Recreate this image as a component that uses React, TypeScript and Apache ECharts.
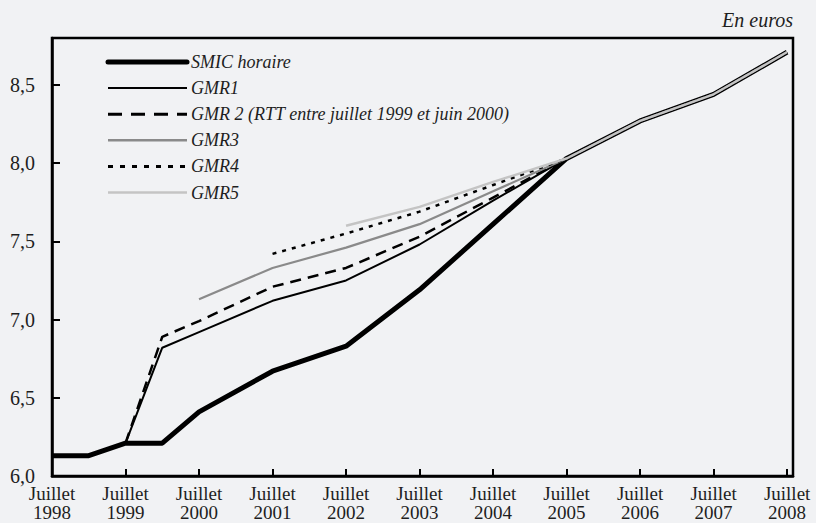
import React, { useEffect, useRef } from "react";
import * as echarts from "echarts";

// x positions: years since July 1998 (0 = Juillet 1998)
const periods = [0, 0.5, 1, 1.5, 2, 3, 4, 5, 6, 7, 8, 9, 10];
const tickYears = [1998, 1999, 2000, 2001, 2002, 2003, 2004, 2005, 2006, 2007, 2008];

const smic = [6.13, 6.13, 6.21, 6.21, 6.41, 6.67, 6.83, 7.19, 7.61, 8.03, 8.27, 8.44, 8.71];
const gmr1 = [null, null, 6.21, 6.82, 6.92, 7.12, 7.25, 7.48, 7.76, 8.03, 8.27, 8.44, 8.71];
const gmr2 = [null, null, 6.21, 6.89, 6.99, 7.21, 7.33, 7.53, 7.78, 8.03, 8.27, 8.44, 8.71];
const gmr3 = [null, null, null, null, 7.13, 7.33, 7.46, 7.61, 7.82, 8.03, 8.27, 8.44, 8.71];
const gmr4 = [null, null, null, null, null, 7.42, 7.55, 7.69, 7.86, 8.03, 8.27, 8.44, 8.71];
const gmr5 = [null, null, null, null, null, null, 7.60, 7.72, 7.88, 8.03, 8.27, 8.44, 8.71];

const seriesNames = [
  "SMIC horaire",
  "GMR1",
  "GMR 2 (RTT entre juillet 1999 et juin 2000)",
  "GMR3",
  "GMR4",
  "GMR5",
];

const FONT = "'Liberation Serif', 'Times New Roman', serif";

function pairs(vals: (number | null)[]) {
  const out: (number | null)[][] = [];
  vals.forEach((v, i) => {
    if (v !== null) out.push([periods[i], v]);
  });
  return out;
}

export default function App() {
  const ref = useRef<HTMLDivElement>(null);
  useEffect(() => {
    if (!ref.current) return;
    const chart = echarts.init(ref.current, undefined, { renderer: "svg" });
    const styles = [
      { color: "#000000", width: 5, type: "solid" as any },
      { color: "#000000", width: 2, type: "solid" as any },
      { color: "#000000", width: 2.5, type: [11, 7] as any },
      { color: "#8a8a8a", width: 2.2, type: "solid" as any },
      { color: "#000000", width: 2.5, type: [4, 6] as any },
      { color: "#c4c4c4", width: 2.4, type: "solid" as any },
    ];
    const legendStyles = [
      { lineWidth: 5, lineDash: null as any, lineCap: "round" },
      { lineWidth: 2, lineDash: null as any, lineCap: "butt" },
      { lineWidth: 3, lineDash: [14, 9], lineCap: "butt" },
      { lineWidth: 2.4, lineDash: null as any, lineCap: "butt" },
      { lineWidth: 3, lineDash: [5, 7], lineCap: "butt" },
      { lineWidth: 2.4, lineDash: null as any, lineCap: "butt" },
    ];
    const datas = [smic, gmr1, gmr2, gmr3, gmr4, gmr5];
    const legendGraphics: any[] = [];
    seriesNames.forEach((name, k) => {
      const y = 62 + 26.1 * k;
      legendGraphics.push({
        type: "line",
        shape: { x1: 108, y1: y, x2: 187, y2: y },
        style: {
          stroke: styles[k].color,
          lineWidth: legendStyles[k].lineWidth,
          lineDash: legendStyles[k].lineDash,
          lineCap: legendStyles[k].lineCap,
        },
        z: 10,
      });
      legendGraphics.push({
        type: "text",
        x: 191,
        y: y,
        style: {
          text: name,
          font: `italic 18px ${FONT}`,
          fill: "#1e1e1e",
          verticalAlign: "middle",
          align: "left",
        },
        z: 10,
      });
    });
    chart.setOption({
      animation: false,
      backgroundColor: "#f1f2f4",
      grid: {
        left: 52,
        top: 38,
        right: 23,
        bottom: 47,
        show: true,
        borderColor: "#000",
        borderWidth: 2.5,
        backgroundColor: "transparent",
        containLabel: false,
        outerBoundsMode: "none",
      },
      graphic: [
        {
          type: "text",
          right: 23,
          top: 10,
          style: {
            text: "En euros",
            font: `italic 20px ${FONT}`,
            fill: "#1e1e1e",
          },
        },
        ...legendGraphics,
      ],
      xAxis: {
        type: "value",
        min: 0,
        max: 10.08,
        interval: 1,
        axisLine: { show: true, lineStyle: { color: "#000", width: 2.5 } },
        axisTick: { show: true, inside: true, length: 7, lineStyle: { color: "#000", width: 2 } },
        splitLine: { show: false },
        axisLabel: {
          margin: 8,
          fontFamily: FONT,
          fontSize: 19,
          lineHeight: 19,
          color: "#1e1e1e",
          showMaxLabel: false,
          formatter: (v: number) => {
            const i = Math.round(v);
            if (Math.abs(v - i) > 0.001 || i < 0 || i >= tickYears.length) return "";
            return `Juillet\n${tickYears[i]}`;
          },
        },
      },
      yAxis: {
        type: "value",
        min: 6,
        max: 8.8,
        interval: 0.5,
        axisLine: { show: true, lineStyle: { color: "#000", width: 2.5 } },
        axisTick: { show: true, inside: true, length: 8, lineStyle: { color: "#000", width: 2 } },
        splitLine: { show: false },
        axisLabel: {
          margin: 17,
          fontFamily: FONT,
          fontSize: 20,
          color: "#1e1e1e",
          showMaxLabel: false,
          formatter: (v: number) => (Math.abs(v - 8.8) < 0.001 ? "" : v.toFixed(1).replace(".", ",")),
        },
      },
      series: datas.map((d, k) => ({
        name: seriesNames[k],
        type: "line",
        data: pairs(d),
        symbol: "none",
        z: 2 + k,
        lineStyle: styles[k],
        itemStyle: { color: styles[k].color },
      })),
    });
    return () => chart.dispose();
  }, []);
  return (
    <div
      ref={ref}
      style={{ position: "fixed", left: 0, top: 0, width: 816, height: 523 }}
    />
  );
}
